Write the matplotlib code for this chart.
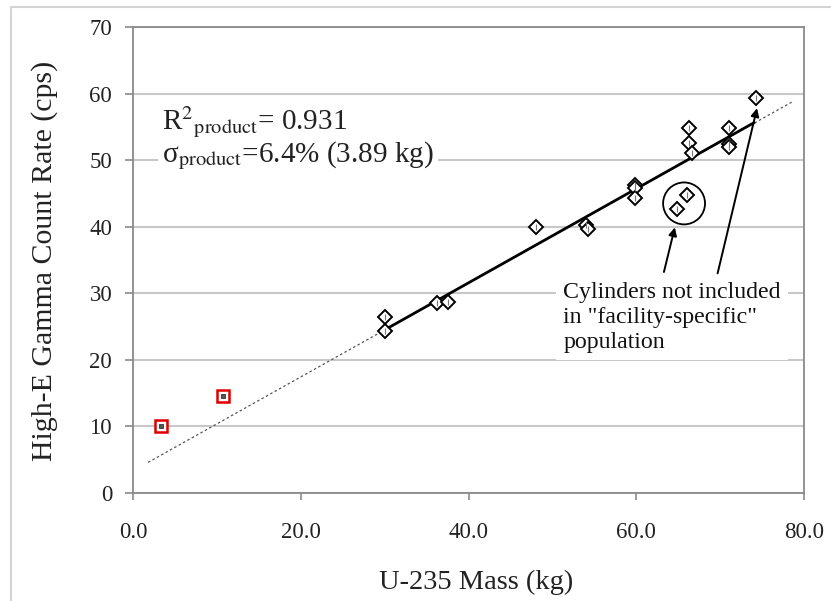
import matplotlib
matplotlib.use("Agg")
import matplotlib.pyplot as plt
from matplotlib.patches import Ellipse, Rectangle

plt.rcParams['font.family'] = ['Liberation Serif', 'DejaVu Serif']
plt.rcParams['mathtext.fontset'] = 'stix'

# product cylinders (U-235 mass vs high-energy gamma count rate)
mass = [30.1, 30.1, 36.3, 37.6, 48.0, 54.0, 54.2, 59.9, 59.9, 59.9,
        66.3, 66.3, 66.7, 71.0, 71.0, 71.0, 74.3]
rate = [26.5, 24.4, 28.5, 28.7, 40.0, 40.3, 39.6, 46.2, 45.8, 44.3,
        54.8, 52.6, 51.0, 54.9, 52.4, 51.9, 59.3]
excl_mass = [64.9, 66.0]
excl_rate = [42.7, 44.7]

# low-mass cylinders (red squares)
calib_mass = [3.3, 10.7]
calib_rate = [10.0, 14.5]

# fitted line over the product population and its extension
fit_x = [30.0, 74.0]
fit_y = [24.5, 55.6]
trend_x = [1.8, 78.8]
trend_y = [4.6, 58.9]

xticks = [0, 20, 40, 60, 80]
yticks = [0, 10, 20, 30, 40, 50, 60, 70]

fig = plt.figure(figsize=(8.31, 6.01), dpi=100)
ax = fig.add_axes([133/831, 1 - 493/601, (804-133)/831, (493-27)/601])

# outer chart frame
fig.patches.append(Rectangle((11/831, 0 - 0.05), 1.0, 1 - 7/601 + 0.05,
                             transform=fig.transFigure, fill=False,
                             edgecolor='#d4d4d4', linewidth=1.5, zorder=0))

ax.set_xlim(0, 80)
ax.set_ylim(0, 70)
ax.set_xticks(xticks)
ax.set_xticklabels([f'{v:.1f}' for v in xticks])
ax.set_yticks(yticks)
ax.grid(axis='y', color='#c8c8c8', linewidth=1.5, zorder=0)
ax.set_axisbelow(True)
for s in ax.spines.values():
    s.set_color('#8a8a8a')
    s.set_linewidth(1.3)
ax.tick_params(axis='y', length=6, color='#8a8a8a', width=1.2, pad=9,
               labelsize=16.5, labelcolor='#222222')
ax.tick_params(axis='x', length=5, color='#8a8a8a', width=1.2, pad=16,
               labelsize=16.5, labelcolor='#222222')

ax.plot(trend_x, trend_y, color='#555555', linewidth=0.9,
        linestyle=(0, (2, 2)), zorder=2)
ax.plot(fit_x, fit_y, color='black', linewidth=2, zorder=3)

for xs, ys in [(mass, rate), (excl_mass, excl_rate)]:
    ax.plot(xs, ys, linestyle='none', marker='D', markersize=7.5,
            markerfacecolor='white', markeredgecolor='black',
            markeredgewidth=1.4, zorder=4)
    ax.plot(xs, ys, linestyle='none', marker='|', markersize=5,
            markeredgecolor='#777777', markeredgewidth=0.8, zorder=5)

ax.plot(calib_mass, calib_rate, linestyle='none', marker='s', markersize=8,
        markerfacecolor='white', markeredgecolor='#e00000',
        markeredgewidth=1.8, zorder=4)
ax.plot(calib_mass, calib_rate, linestyle='none', marker='s', markersize=3.5,
        markerfacecolor='#555555', markeredgecolor='#333333',
        markeredgewidth=0.6, zorder=5)

ax.add_patch(Ellipse((65.7, 43.5), 5.0, 6.3, fill=False,
                     edgecolor='black', linewidth=1.3, zorder=5))

ax.text(3.5, 53.3,
        "R$^{2}{}_{\\mathrm{product}}$= 0.931\n"
        "\u03c3$_{\\mathrm{product}}$=6.4% (3.89 kg)",
        fontsize=21, ha='left', va='center', linespacing=0.95,
        color='#222222', zorder=6,
        bbox=dict(facecolor='white', edgecolor='none', pad=3))

ax.text(51.3, 26.4, 'Cylinders not included\nin "facility-specific"\npopulation',
        fontsize=17.2, ha='left', va='center', linespacing=1.25,
        color='#111111', zorder=6,
        bbox=dict(facecolor='white', edgecolor='none', pad=5))

arrow = dict(arrowstyle='-|>', color='black', linewidth=1.4,
             mutation_scale=12, shrinkA=0, shrinkB=0)
ax.annotate('', xy=(64.6, 39.9), xytext=(63.3, 33.2), arrowprops=arrow, zorder=6)
ax.annotate('', xy=(74.4, 57.8), xytext=(69.7, 33.0), arrowprops=arrow, zorder=6)

fig.text(45/831, 1 - 261/601, 'High-E Gamma Count Rate (cps)', rotation=90,
         ha='center', va='center', fontsize=21.5, color='#222222')
fig.text(476/831, 1 - 582/601, 'U-235 Mass (kg)',
         ha='center', va='center', fontsize=20.5, color='#222222')

fig.savefig('out.png', dpi=100)
